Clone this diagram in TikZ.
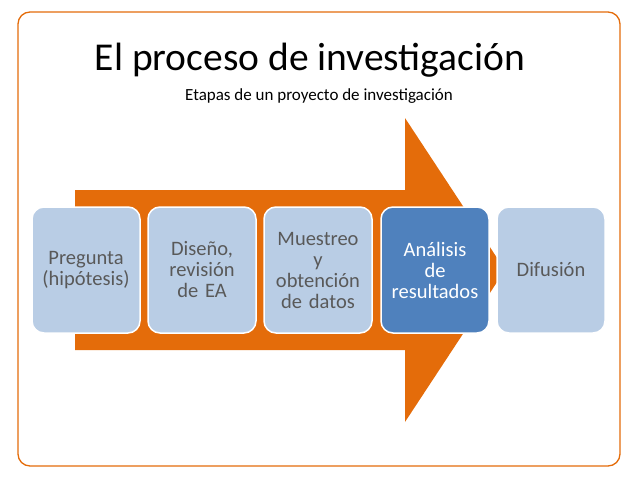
\documentclass[tikz,border=0pt]{standalone}
\usepackage{fontspec}
\setmainfont{Carlito}
\definecolor{org}{HTML}{E46C0A}
\definecolor{lb}{HTML}{B9CDE5}
\definecolor{db}{HTML}{4F81BD}
\definecolor{tx}{HTML}{595959}
\begin{document}
\begin{tikzpicture}[x=1pt,y=-1pt,
  stepbox/.style={draw=white,line width=1.5pt,fill=lb,rounded corners=12pt,text=tx,align=center,font=\fontsize{20.5}{21}\selectfont,minimum width=108pt,minimum height=126pt,text width=106pt,inner sep=0pt}]
\useasboundingbox (0,0) rectangle (638,479);
\draw[org,line width=1.3pt,rounded corners=12pt] (18,12) rectangle (620,466);
\node (t) at (310,60) {\fontsize{39.5}{44}\selectfont El proceso de investigación};
\node (s) at (319,96) {\fontsize{17}{19}\selectfont Etapas de un proyecto de investigación};
\fill[org] (75,190) -- (405,190) -- (405,118) -- (505,270) -- (405,422) -- (405,350) -- (75,350) -- cycle;
\node[stepbox] (b1) at (86,270) {Pregunta\\(hipótesis)};
\node[stepbox] (b2) at (202,270) {Diseño,\\revisión\\de EA};
\node[stepbox] (b3) at (318,270) {Muestreo\\y\\obtención\\de datos};
\node[stepbox,fill=db,text=white] (b4) at (435,270) {Análisis\\de\\resultados};
\node[stepbox] (b5) at (551,270) {Difusión};
\end{tikzpicture}
\end{document}
